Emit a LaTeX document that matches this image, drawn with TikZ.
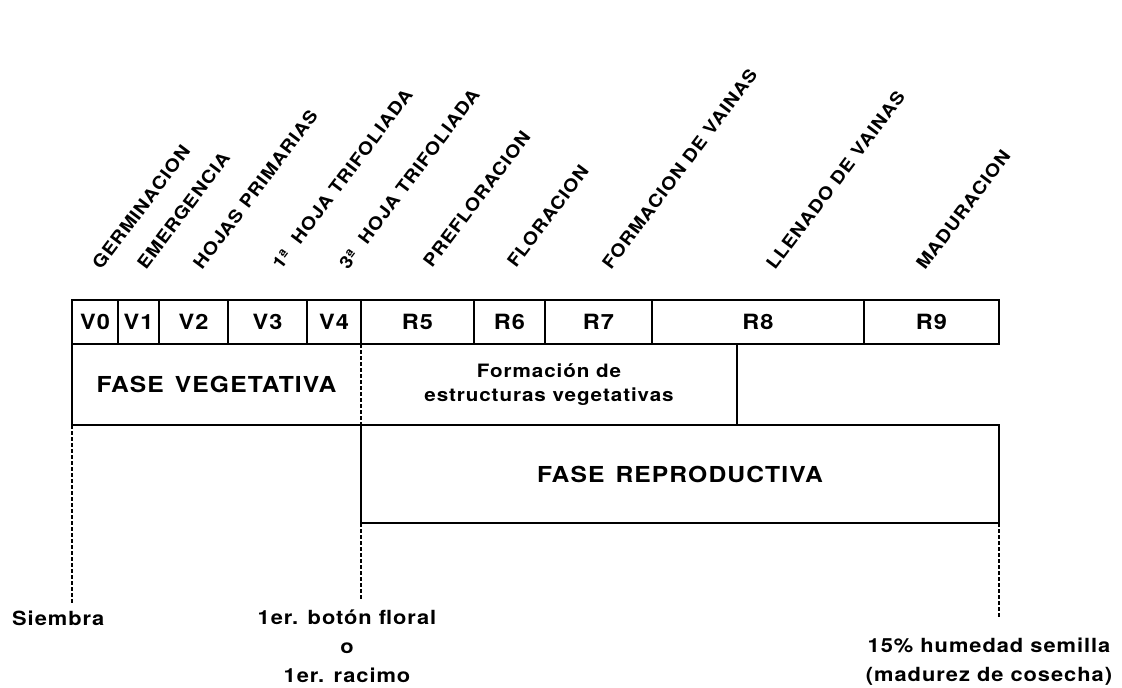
\documentclass[tikz,border=0pt]{standalone}
\usepackage{fontspec}
\setmainfont[FakeStretch=1.12,LetterSpace=5]{TeX Gyre Heros}
\begin{document}
\begin{tikzpicture}[x=1pt,y=-1pt,
  frame/.style={line width=2.6pt,line cap=rect},
  dline/.style={line width=2.6pt,dash pattern=on 4pt off 2pt},
  cell/.style={draw,line width=2.6pt,minimum height=44pt,inner sep=0pt,outer sep=0pt,
    font=\fontsize{21}{24}\selectfont\bfseries},
  stagelab/.style={rotate=53,anchor=base west,inner sep=0pt,
    font=\fontsize{17.5}{21}\selectfont\bfseries},
  phase/.style={inner sep=0pt,outer sep=0pt,font=\fontsize{22}{26}\selectfont\bfseries},
  btxt/.style={inner sep=0pt,font=\fontsize{19.5}{29}\selectfont\bfseries}
]
\useasboundingbox (0,0) rectangle (1122,688);
% stage row
\node[cell,minimum width=46pt]  (v0) at (95,322)    {V0};
\node[cell,minimum width=41pt]  (v1) at (138.5,322) {V1};
\node[cell,minimum width=69pt]  (v2) at (193.5,322) {V2};
\node[cell,minimum width=79pt]  (v3) at (267.5,322) {V3};
\node[cell,minimum width=54pt]  (v4) at (334,322)   {V4};
\node[cell,minimum width=113pt] (r5) at (417.5,322) {R5};
\node[cell,minimum width=71pt]  (r6) at (509.5,322) {R6};
\node[cell,minimum width=107pt] (r7) at (598.5,322) {R7};
\node[cell,minimum width=212pt] (r8) at (758,322)   {R8};
\node[cell,minimum width=135pt] (r9) at (931.5,322) {R9};
% rotated stage names
\node[stagelab] (g1)  at (101,271) {GERMINACION};
\node[stagelab] (g2)  at (146,271) {EMERGENCIA};
\node[stagelab] (g3)  at (202,271) {HOJAS PRIMARIAS};
\node[stagelab] (g4)  at (281,271) {1ª\ \ HOJA TRIFOLIADA};
\node[stagelab] (g5)  at (348,271) {3ª\ \ HOJA TRIFOLIADA};
\node[stagelab] (g6)  at (432,269) {PREFLORACION};
\node[stagelab] (g7)  at (516,269) {FLORACION};
\node[stagelab] (g8)  at (611,271) {FORMACION DE VAINAS};
\node[stagelab] (g9)  at (775,271) {LLENADO DE VAINAS};
\node[stagelab] (g10) at (925,271) {MADURACION};
% middle row
\node[phase,minimum width=289pt,minimum height=81pt] (veg) at (216.5,384.5) {FASE\hspace{0.5em}VEGETATIVA};
\node[inner sep=0pt,outer sep=0pt,minimum width=376pt,minimum height=81pt,align=center,
  font=\fontsize{18.4}{24}\selectfont\bfseries] (form) at (549,384.5) {Formación de\\estructuras vegetativas};
\draw[frame] (veg.north west) -- (veg.south west) -- (form.south east) -- (form.north east);
\draw[dline] (veg.north east) -- (veg.south east);
% reproductive phase
\node[phase,draw,line width=2.6pt,minimum width=638pt,minimum height=98pt] (repro) at (680,474) {FASE\hspace{0.5em}REPRODUCTIVA};
% bottom labels
\node[btxt,anchor=base west] (siembra) at (12,625) {Siembra};
\node[btxt,anchor=north,align=center] (boton) at (347,610) {1er. botón floral\\o\\1er. racimo};
\node[btxt,anchor=north,align=center] (humedad) at (989,638) {15\% humedad semilla\\(madurez de cosecha)};
\coordinate (sEnd) at (72,604);
\coordinate (bEnd) at (361,600);
\coordinate (hEnd) at (999,618);
\draw[dline] (veg.south west) -- (sEnd);
\draw[dline] (repro.south west) -- (bEnd);
\draw[dline] (repro.south east) -- (hEnd);
\end{tikzpicture}
\end{document}
